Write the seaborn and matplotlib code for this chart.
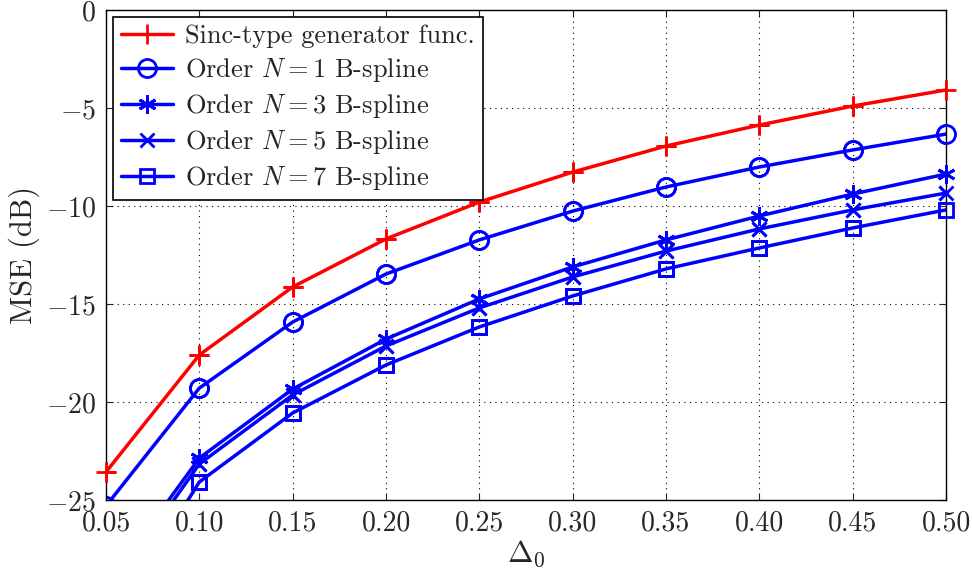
import numpy as np
import pandas as pd
import matplotlib
matplotlib.use("Agg")
import matplotlib.pyplot as plt
import seaborn as sns

delta0 = [0.05, 0.10, 0.15, 0.20, 0.25, 0.30, 0.35, 0.40, 0.45, 0.50]
sinc_mse = [-23.57, -17.6, -14.13, -11.68, -9.8, -8.27, -6.94, -5.87, -4.9, -4.08]
bspl1_mse = [-25.3, -19.29, -15.92, -13.47, -11.73, -10.26, -9.03, -8.01, -7.14, -6.33]
bspl3_mse = [-29.4, -22.86, -19.34, -16.79, -14.74, -13.11, -11.73, -10.51, -9.39, -8.37]
bspl5_mse = [-29.9, -23.16, -19.64, -17.14, -15.2, -13.62, -12.3, -11.17, -10.2, -9.34]
bspl7_mse = [-31.7, -24.08, -20.56, -18.11, -16.17, -14.59, -13.21, -12.14, -11.12, -10.2]
labels = ["Sinc-type generator func.",
          r"Order $N=1$ B-spline",
          r"Order $N=3$ B-spline",
          r"Order $N=5$ B-spline",
          r"Order $N=7$ B-spline"]
xticks = [0.05, 0.10, 0.15, 0.20, 0.25, 0.30, 0.35, 0.40, 0.45, 0.50]
yticks = [-25, -20, -15, -10, -5, 0]

sns.set_style("white")
plt.rcParams["font.family"] = ["serif"]
plt.rcParams["font.serif"] = ["cmr10", "DejaVu Serif"]
plt.rcParams["mathtext.fontset"] = "cm"
plt.rcParams["axes.formatter.use_mathtext"] = True
plt.rcParams["axes.unicode_minus"] = True

series = [sinc_mse, bspl1_mse, bspl3_mse, bspl5_mse, bspl7_mse]
colors = ["#ff0000", "#0000ff", "#0000ff", "#0000ff", "#0000ff"]
markers = ["+", "o", (6, 2, 0), "x", "s"]
msizes = [14, 13, 13, 10, 10]

fig = plt.figure(figsize=(9.72, 5.78), dpi=100)
ax = fig.add_axes([106/972, 78/578, (946-106)/972, (500-10)/578])
ymin, ymax = -25, 0

for vals, lab, c, m, ms in zip(series, labels, colors, markers, msizes):
    df = pd.DataFrame({"x": delta0, "y": vals})
    sns.lineplot(data=df, x="x", y="y", ax=ax, color=c, marker=m, markersize=ms,
                 markeredgewidth=2, markerfacecolor="none", markeredgecolor=c,
                 linewidth=2.5, label=lab, sort=False)
    # markers whose point lies inside the limits are drawn unclipped (MATLAB style)
    inside = df[(df["y"] >= ymin) & (df["y"] <= ymax)]
    ax.plot(inside["x"], inside["y"], linestyle="none", marker=m, markersize=ms,
            markeredgewidth=2, markerfacecolor="none", markeredgecolor=c,
            clip_on=False, zorder=3)

ax.set_xlim(0.05, 0.50)
ax.set_ylim(ymin, ymax)
ax.set_xticks(xticks)
ax.set_xticklabels([f"{t:.2f}" for t in xticks])
ax.set_yticks(yticks)
ax.set_yticklabels([r"$-%d$" % (-t) if t < 0 else r"$0$" for t in yticks])
ax.tick_params(axis="both", direction="in", length=5, width=0.8, labelsize=20,
               top=True, right=True, bottom=True, left=True, pad=7)
ax.grid(True, color="black", linestyle=(0, (1, 4)), linewidth=0.8)
for s in ax.spines.values():
    s.set_color("black")
    s.set_linewidth(1.0)
ax.set_xlabel(r"$\Delta_0$", fontsize=22, labelpad=2)
ax.set_ylabel("MSE (dB)", fontsize=22, labelpad=4)

leg = ax.legend(loc="upper left", fontsize=19, frameon=True, fancybox=False,
                edgecolor="black", framealpha=1, handlelength=2.0,
                borderaxespad=0.25, labelspacing=0.3, handletextpad=0.45,
                borderpad=0.3)
leg.get_frame().set_linewidth(1.2)
leg.set_zorder(5)

fig.savefig("out.png", dpi=100)
